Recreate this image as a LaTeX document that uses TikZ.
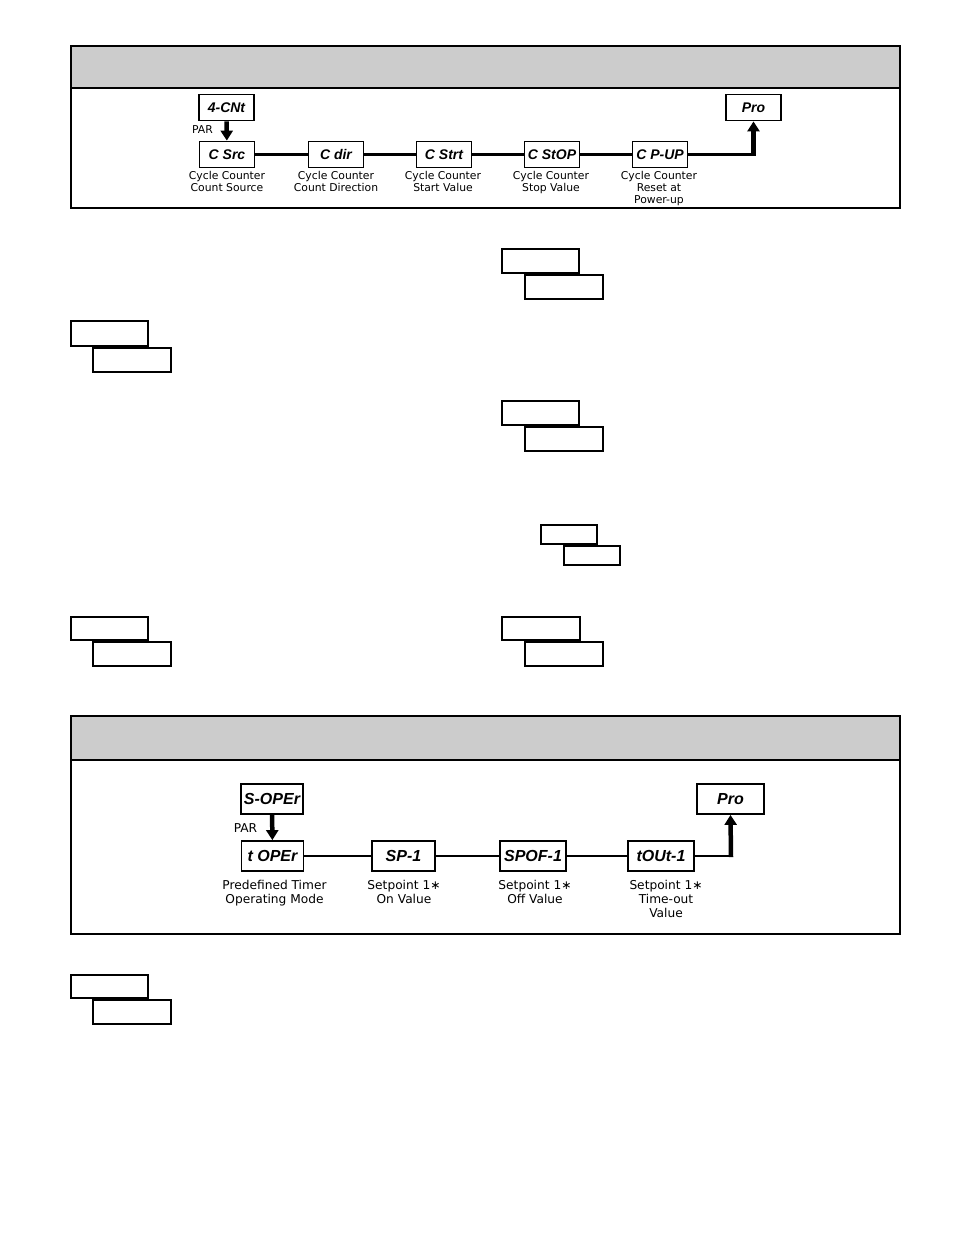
\documentclass[tikz,border=0pt]{standalone}
\usepackage{fontspec}
\setmainfont{DejaVu Sans}
\newfontfamily\labfont{DejaVu Sans}
\newfontfamily\dispfont{Liberation Sans}
\usetikzlibrary{arrows.meta}
\definecolor{hdrgray}{HTML}{CCCCCC}
\begin{document}
\begin{tikzpicture}[x=1pt,y=-1pt,
  disp/.style={draw,line width=1.8pt,inner sep=0pt},
  topdisp/.style={disp,minimum width=55pt,minimum height=26pt,font=\dispfont\bfseries\itshape\fontsize{14}{14}\selectfont},
  botdisp/.style={disp,minimum width=64pt,minimum height=30pt,font=\dispfont\bfseries\itshape\fontsize{16}{16}\selectfont},
  toplab/.style={anchor=north,align=center,inner sep=0pt,font=\labfont\fontsize{10.8}{12}\selectfont},
  botlab/.style={anchor=north,align=center,inner sep=0pt,font=\labfont\fontsize{12.2}{14}\selectfont},
  conn/.style={line width=2.2pt},
  bigarrow/.style={line width=4.5pt,-{Triangle[width=12pt,length=10pt]}},
  panel/.style={line width=2pt},
  blank/.style={draw,line width=1.3pt}]
\useasboundingbox (0,0) rectangle (954,1235);

% ---------- top panel ----------
\fill[hdrgray] (71,46) rectangle (900,88);
\draw[panel] (71,46) rectangle (900,207.5);
\draw[panel] (71,88) -- (900,88);

\node[topdisp] (ycnt) at (226.5,107.5) {4-CNt};
\node[topdisp] (csrc) at (227,154.5) {C Src};
\node[topdisp] (cdir) at (336,154.5) {C dir};
\node[topdisp] (cstrt) at (444,154.5) {C Strt};
\node[topdisp] (cstop) at (552,154.5) {C StOP};
\node[topdisp] (cpup) at (660,154.5) {C P-UP};
\node[topdisp] (pro) at (753.5,107.5) {Pro};

\draw[bigarrow] (ycnt) -- (csrc);
\node[inner sep=0pt,font=\labfont\fontsize{10.8}{12}\selectfont] (par1) at (202.5,130) {PAR};
\draw[conn] (csrc) -- (cdir);
\draw[conn] (cdir) -- (cstrt);
\draw[conn] (cstrt) -- (cstop);
\draw[conn] (cstop) -- (cpup);
\coordinate (k1) at (753.5,154.5);
\draw[conn] (cpup) -- (k1);
\draw[bigarrow] ([yshift=-1.1pt]k1) -- (pro.south);

\node[toplab] (l1) at (227,171.5) {Cycle Counter\\Count Source};
\node[toplab] (l2) at (336,171.5) {Cycle Counter\\Count Direction};
\node[toplab] (l3) at (443,171.5) {Cycle Counter\\Start Value};
\node[toplab] (l4) at (551,171.5) {Cycle Counter\\Stop Value};
\node[toplab] (l5) at (659,171.5) {Cycle Counter\\Reset at\\Power-up};

% ---------- blank boxes ----------
\draw[blank] (502,249) rectangle (579,273);
\draw[blank] (525,275) rectangle (603,299);
\draw[blank] (71,321) rectangle (148,346);
\draw[blank] (93,348) rectangle (171,372);
\draw[blank] (502,401) rectangle (579,425);
\draw[blank] (525,427) rectangle (603,451);
\draw[blank] (541,525) rectangle (597,544);
\draw[blank] (564,546) rectangle (620,565);
\draw[blank] (71,617) rectangle (148,640);
\draw[blank] (93,642) rectangle (171,666);
\draw[blank] (502,617) rectangle (580,640);
\draw[blank] (525,642) rectangle (603,666);
\draw[blank] (71,975) rectangle (148,998);
\draw[blank] (93,1000) rectangle (171,1024);

% ---------- bottom panel ----------
\fill[hdrgray] (71,716) rectangle (900,760);
\draw[panel] (71,716) rectangle (900,934);
\draw[panel] (71,760) -- (900,760);

\node[botdisp,minimum width=62pt] (soper) at (272,799) {S-OPEr};
\node[botdisp,minimum width=62pt] (toper) at (272.5,856) {t OPEr};
\node[botdisp,minimum width=63pt] (sp1) at (403.5,856) {SP-1};
\node[botdisp,minimum width=66pt] (spof) at (533,856) {SPOF-1};
\node[botdisp,minimum width=66pt] (tout) at (661,856) {tOUt-1};
\node[botdisp,minimum width=67pt] (pro2) at (730.5,799) {Pro};

\draw[bigarrow] (soper) -- (toper);
\node[inner sep=0pt,font=\labfont\fontsize{12.2}{14}\selectfont] (par2) at (245.5,828) {PAR};
\draw[conn] (toper) -- (sp1);
\draw[conn] (sp1) -- (spof);
\draw[conn] (spof) -- (tout);
\coordinate (k2) at (731,856);
\draw[conn] (tout) -- (k2);
\draw[bigarrow] ([yshift=-1.1pt]k2) -- (pro2.south);

\node[botlab] (m1) at (274.5,880) {Predefined Timer\\Operating Mode};
\node[botlab] (m2) at (404,880) {Setpoint 1∗\\On Value};
\node[botlab] (m3) at (535,880) {Setpoint 1∗\\Off Value};
\node[botlab] (m4) at (666,880) {Setpoint 1∗\\Time-out\\Value};
\end{tikzpicture}
\end{document}
